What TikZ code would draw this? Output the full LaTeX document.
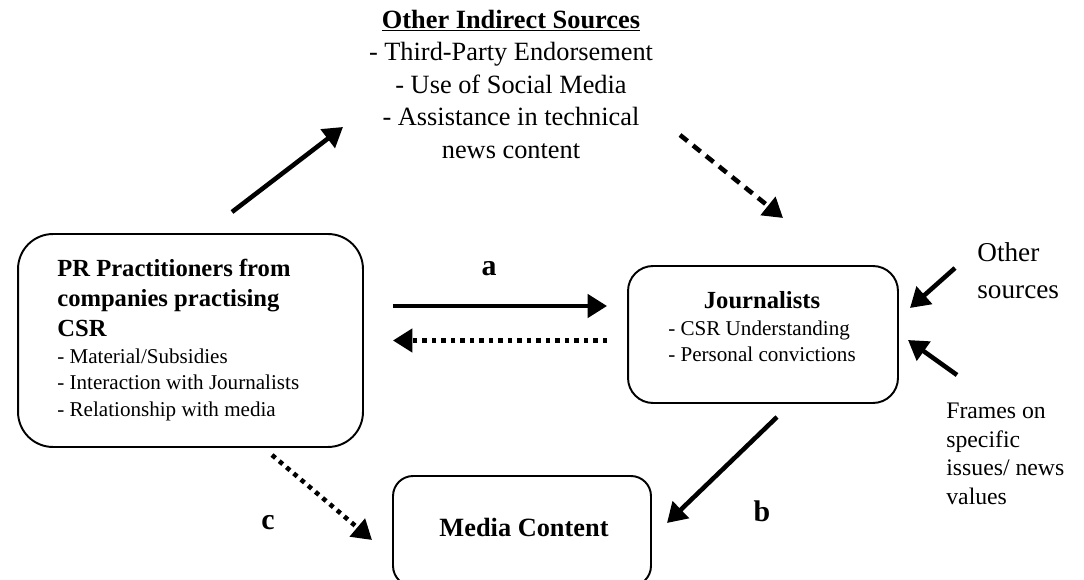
\documentclass[tikz,border=0pt]{standalone}
\usepackage{fontspec}
\setmainfont{Liberation Serif}
\usetikzlibrary{arrows.meta,positioning}

\begin{document}
\begin{tikzpicture}[x=0.02cm,y=-0.02cm,
        box/.style={draw,line width=1.1pt,rounded corners=#1},
        box/.default=0.5cm,
        link/.style={line width=2.6pt,-{Triangle[length=11pt,width=13pt]}},
        dashlink/.style={link,dash pattern=on 5.5pt off 4pt},
        dotlink/.style={link,dash pattern=on 2.6pt off 2.8pt},
        head/.style={font=\fontsize{14}{17}\selectfont\bfseries},
        item/.style={font=\fontsize{12}{15}\selectfont},
        tag/.style={font=\fontsize{17}{20}\selectfont\bfseries}]
        \useasboundingbox (0,0) rectangle (1084,580);

        % boxes
        \node[box=0.7cm,minimum width=6.9cm,minimum height=4.26cm] (pr) at (190.5,340.5) {};
        \node[head,anchor=north west,align=left,inner sep=0pt] (prtitle) at (57,259) {PR Practitioners from\\companies practising\\CSR};
        \node[item,anchor=north west,align=left,inner sep=0pt] (prlist) at ([yshift=-6.5pt]prtitle.south west) {- Material/Subsidies\\- Interaction with Journalists\\- Relationship with media};

        \node[box,minimum width=5.4cm,minimum height=2.74cm] (jour) at (763,334.5) {};
        \node[item,inner sep=0pt] (jourtext) at (762,330) {\begin{tabular}{@{}l@{}}\multicolumn{1}{@{}c@{}}{\fontsize{14}{17}\selectfont\bfseries Journalists}\\- CSR Understanding\\- Personal convictions\end{tabular}};

        \node[box=0.4cm,minimum width=5.16cm,minimum height=2.2cm] (media) at (522,531) {};
        \node[font=\fontsize{15}{18}\selectfont\bfseries,inner sep=0pt] (mediatext) at (524,527) {Media Content};

        % texts
        \node[align=center,font=\fontsize{15}{18.5}\selectfont] (src) at (511,84) {\underline{\textbf{Other Indirect Sources}}\\- Third-Party Endorsement\\- Use of Social Media\\- Assistance in technical\\news content};
        \node[anchor=west,align=left,inner sep=0pt,font=\fontsize{15.5}{21}\selectfont] (oth) at (977,271) {Other\\sources};
        \node[anchor=west,align=left,inner sep=0pt,font=\fontsize{13.5}{16.3}\selectfont] (frm) at (946,454) {Frames on\\specific\\issues/ news\\values};

        \node[tag] (a) at (489,269) {a};
        \node[tag] (b) at (762,511) {b};
        \node[tag] (c) at (268,523) {c};

        % arrow ends
        \coordinate (pr-up) at (232,212);
        \coordinate (src-in) at (343,127);
        \coordinate (src-out) at (680,135);
        \coordinate (jour-in) at (783,218);
        \coordinate (pr-down) at (272,455);
        \coordinate (media-in) at (372,540);
        \coordinate (jour-down) at (777,417);
        \coordinate (media-in2) at (667,523);
        \coordinate (oth-out) at (955,268);
        \coordinate (oth-in) at (910,308);
        \coordinate (frm-out) at (957,375);
        \coordinate (frm-in) at (908,340);

        \draw[link] (pr-up)--(src-in);
        \draw[dashlink] (src-out)--(jour-in);
        \draw[link,shorten <=0.58cm,shorten >=0.4cm] ([yshift=0.69cm]pr.east)--([yshift=0.69cm]pr.east -| jour.west);
        \draw[dotlink,shorten <=0.4cm,shorten >=0.58cm] (pr.east -| jour.west)--(pr.east);
        \draw[dotlink] (pr-down)--(media-in);
        \draw[link] (jour-down)--(media-in2);
        \draw[link] (oth-out)--(oth-in);
        \draw[link] (frm-out)--(frm-in);
    \end{tikzpicture}
\end{document}
